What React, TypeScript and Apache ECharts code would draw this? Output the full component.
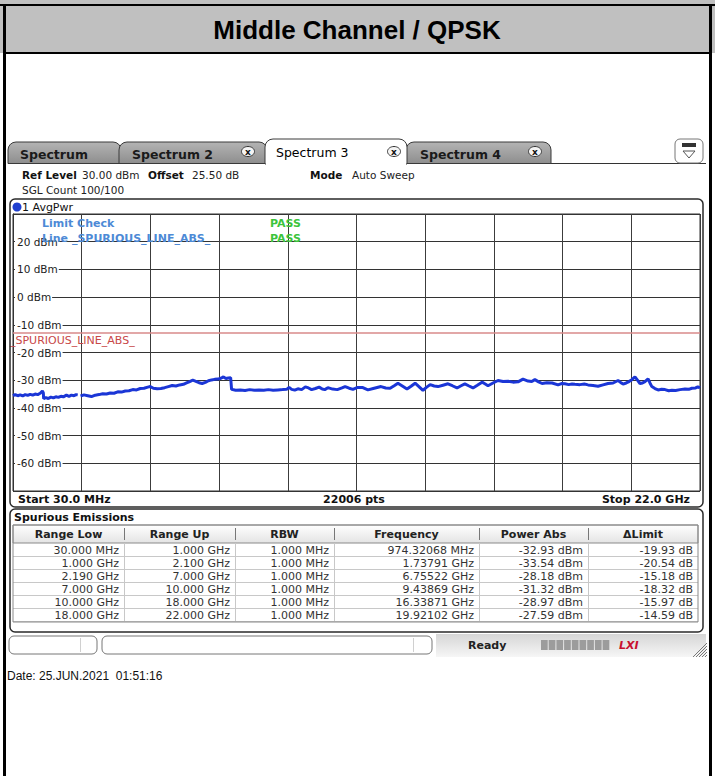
import React, { useEffect, useRef } from 'react';
import * as echarts from 'echarts';

// ---------- data ----------
const titleText = 'Middle Channel / QPSK';
const tabNames = ['Spectrum', 'Spectrum 2', 'Spectrum 3', 'Spectrum 4'];
const yMin = -70;
const yMax = 30;
const yStep = 10;
const xStartGHz = 0.03;
const xStopGHz = 22.0;
const sweepPoints = 22006;
const limitDbm = -13;

const traceFreqGHz = [
  0.03, 0.1, 0.18, 0.26, 0.34, 0.42, 0.5, 0.58, 0.66, 0.74, 0.82, 0.9, 0.97, 1.0,
  1.01, 1.08, 1.16, 1.24, 1.32, 1.4, 1.48, 1.56, 1.64, 1.74, 1.82, 1.9, 1.98, 2.05, 2.1,
  2.14,
  2.19, 2.3, 2.42, 2.54, 2.66, 2.78, 2.9, 3.02, 3.14, 3.26, 3.38, 3.5, 3.62, 3.74, 3.86, 3.98,
  4.1, 4.22, 4.34, 4.42, 4.52, 4.64, 4.76, 4.88, 5.0, 5.12, 5.24, 5.36, 5.48, 5.58, 5.68, 5.78,
  5.88, 5.98, 6.08, 6.18, 6.28, 6.38, 6.48, 6.58, 6.68, 6.76, 6.84, 6.92, 6.99,
  7.02, 7.15, 7.3, 7.45, 7.6, 7.75, 7.9, 8.05, 8.2, 8.35, 8.5, 8.65, 8.78, 8.86, 8.94, 9.04,
  9.14, 9.26, 9.38, 9.48, 9.58, 9.7, 9.82, 9.92, 10.0,
  10.1, 10.25, 10.4, 10.55, 10.65, 10.78, 10.9, 11.05, 11.2, 11.38, 11.55, 11.8, 11.95, 12.09,
  12.22, 12.34, 12.48, 12.63, 12.76, 12.89, 13.02, 13.14, 13.25, 13.37, 13.5, 13.62, 13.78,
  13.94, 14.08, 14.23, 14.36, 14.48, 14.6, 14.74, 14.88, 15.03, 15.12, 15.22, 15.38, 15.54,
  15.7, 15.86, 16.02, 16.18, 16.34, 16.5, 16.62, 16.72, 16.84, 16.95, 17.1, 17.27, 17.46,
  17.57, 17.68, 17.8, 17.91, 18.0,
  18.16, 18.3, 18.42, 18.58, 18.74, 18.9, 19.06, 19.22, 19.38, 19.46, 19.54, 19.64, 19.73,
  19.82, 19.92, 20.0, 20.08, 20.16, 20.24, 20.34, 20.4, 20.46, 20.56, 20.66, 20.77, 20.88,
  21.0, 21.1, 21.22, 21.36, 21.52, 21.64, 21.74, 21.86, 21.93, 22.0,
];
const traceLevelDbm: (number | null)[] = [
  -35.6, -35.2, -35.6, -35.3, -35.7, -35.2, -35.5, -35.1, -35.4, -35.0, -35.2, -34.7, -33.9, -34.6,
  -36.7, -36.3, -36.6, -36.1, -36.4, -36.0, -36.2, -35.8, -36.0, -35.4, -35.8, -35.4, -35.6, -35.2, -35.3,
  null,
  -35.7, -35.3, -35.6, -35.9, -35.4, -35.2, -34.9, -35.0, -34.6, -34.7, -34.2, -34.3, -33.9, -33.8, -33.4, -33.5,
  -33.0, -32.9, -32.5, -32.3, -32.9, -33.1, -33.0, -32.7, -32.3, -31.9, -32.1, -31.7, -31.5, -31.0, -30.5, -30.0,
  -30.4, -30.9, -31.2, -30.8, -30.2, -29.9, -29.7, -29.6, -29.3, -28.8, -29.4, -29.2, -29.1,
  -33.3, -33.6, -33.5, -33.7, -33.4, -33.6, -33.5, -33.6, -33.4, -33.6, -33.5, -33.4, -33.3, -32.6, -33.3, -33.6,
  -33.1, -33.4, -32.4, -32.8, -33.4, -33.0, -32.5, -33.2, -33.4,
  -32.7, -33.2, -33.4, -32.8, -32.3, -32.9, -33.3, -32.6, -32.6, -33.5, -33.0, -32.3, -32.8, -32.9,
  -32.0, -31.1, -32.1, -33.2, -32.2, -31.1, -32.4, -33.7, -32.6, -31.6, -32.1, -32.3, -31.8,
  -31.3, -32.0, -32.8, -32.0, -31.3, -32.0, -32.8, -31.8, -30.7, -31.3, -32.0, -31.0, -30.1,
  -30.5, -30.4, -30.7, -30.6, -29.6, -30.3, -30.5, -29.8, -30.6, -31.2, -30.9, -31.0, -31.7,
  -31.2, -31.3, -31.6, -31.4, -31.5,
  -31.6, -31.4, -31.7, -31.9, -32.2, -31.7, -31.2, -31.0, -30.1, -30.8, -31.4, -31.0, -30.5,
  -29.8, -28.8, -30.0, -31.2, -31.0, -30.5, -29.5, -31.0, -32.3, -33.0, -33.5, -33.3, -33.4,
  -33.8, -33.6, -33.7, -33.4, -33.2, -33.3, -32.9, -32.8, -32.4, -32.8,
];

const tableHeaders = ['Range Low', 'Range Up', 'RBW', 'Frequency', 'Power Abs', '\u0394Limit'];
const rangeLow = ['30.000 MHz', '1.000 GHz', '2.190 GHz', '7.000 GHz', '10.000 GHz', '18.000 GHz'];
const rangeUp = ['1.000 GHz', '2.100 GHz', '7.000 GHz', '10.000 GHz', '18.000 GHz', '22.000 GHz'];
const rbw = ['1.000 MHz', '1.000 MHz', '1.000 MHz', '1.000 MHz', '1.000 MHz', '1.000 MHz'];
const peakFrequency = ['974.32068 MHz', '1.73791 GHz', '6.75522 GHz', '9.43869 GHz', '16.33871 GHz', '19.92102 GHz'];
const powerAbsDbm = [-32.93, -33.54, -28.18, -31.32, -28.97, -27.59];
const deltaLimitDb = [-19.93, -20.54, -15.18, -18.32, -15.97, -14.59];

const infoRefLevel = '30.00 dBm';
const infoOffset = '25.50 dB';
const infoMode = 'Auto Sweep';
const infoCount = 'SGL Count 100/100';
const dateText = 'Date: 25.JUN.2021  01:51:16';

// ---------- helpers ----------
const FONT = '"DejaVu Sans", Verdana, sans-serif';
const ARIAL = '"Liberation Sans", Arial, sans-serif';

function txt(x: number, y: number, text: string, o: any = {}) {
  return {
    type: 'text', x, y, z: 100, silent: true,
    style: {
      text, fill: o.fill || '#111', fontSize: o.size || 11, fontFamily: o.family || FONT,
      fontWeight: o.weight || 'normal', fontStyle: o.style || 'normal',
      align: o.align || 'left', verticalAlign: 'middle',
    },
  };
}
function rect(x: number, y: number, w: number, h: number, style: any, r: any = 0, z = 5) {
  return { type: 'rect', z, silent: true, shape: { x, y, width: w, height: h, r }, style };
}
function ln(x1: number, y1: number, x2: number, y2: number, stroke: string, lineWidth = 1, z = 6) {
  return { type: 'line', z, silent: true, shape: { x1, y1, x2, y2 }, style: { stroke, lineWidth } };
}
const vgrad = (a: string, b: string) => ({
  type: 'linear', x: 0, y: 0, x2: 0, y2: 1,
  colorStops: [{ offset: 0, color: a }, { offset: 1, color: b }],
});
const NONE = 'rgba(0,0,0,0)';

function buildGraphic() {
  const g: any[] = [];
  // document frame
  g.push(rect(0, 0, 715, 53, { fill: '#c0c0c0' }, 0, 1));
  g.push(rect(0, 4, 715, 2, { fill: '#000' }, 0, 2));
  g.push(rect(3, 52, 709, 2, { fill: '#000' }, 0, 2));
  g.push(rect(3, 4, 3, 772, { fill: '#000' }, 0, 2));
  g.push(rect(709, 4, 3, 772, { fill: '#000' }, 0, 2));
  g.push(txt(357, 30, titleText, { family: ARIAL, size: 26, weight: 'bold', align: 'center', fill: '#000' }));

  // tabs
  g.push(ln(8, 163.5, 706, 163.5, '#333', 1, 4));
  const tabs = [
    { x: 8, w: 113, tx: 20, xi: 0 },
    { x: 119, w: 148, tx: 132, xi: 248 },
    { x: 265, w: 142, tx: 276, xi: 394 },
    { x: 406, w: 145, tx: 420, xi: 535 },
  ];
  tabs.forEach((t, i) => {
    const active = i === 2;
    if (active) return;
    g.push(rect(t.x, 142, t.w, 21.5, { fill: vgrad('#b4b4b4', '#8e8e8e'), stroke: '#3a3a3a', lineWidth: 1 }, [8, 8, 0, 0], 5));
    g.push(txt(t.tx, 154, tabNames[i], { weight: 'bold', size: 12.5, fill: '#1a1a1a' }));
  });
  const at = tabs[2];
  g.push(rect(at.x, 139, at.w, 25, { fill: '#fff', stroke: '#3a3a3a', lineWidth: 1 }, [8, 8, 0, 0], 7));
  g.push(rect(at.x + 1, 160, at.w - 2, 5, { fill: '#fff' }, 0, 8));
  g.push(txt(at.tx, 152, tabNames[2], { size: 12.5, fill: '#000' }));
  tabs.forEach((t) => {
    if (!t.xi) return;
    g.push({ type: 'ellipse', z: 9, silent: true, shape: { cx: t.xi, cy: 151.5, rx: 6.5, ry: 5 }, style: { fill: '#f4f4f4', stroke: '#333', lineWidth: 1 } });
    g.push(txt(t.xi, 151.5, 'x', { size: 9, weight: 'bold', align: 'center', fill: '#111' }));
  });
  // right icon
  g.push(rect(675, 139, 28, 24, { fill: '#fff', stroke: '#777', lineWidth: 1 }, 5, 5));
  g.push(rect(682, 143, 14, 4, { fill: '#333' }, 0, 6));
  g.push({ type: 'polygon', z: 6, silent: true, shape: { points: [[683, 151], [695, 151], [689, 158]] }, style: { fill: '#fff', stroke: '#555', lineWidth: 1 } });

  // info lines
  const IS = 10.5;
  g.push(txt(22, 175, 'Ref Level', { weight: 'bold', size: IS }));
  g.push(txt(82, 175, infoRefLevel, { fill: '#222', size: IS }));
  g.push(txt(148, 175, 'Offset', { weight: 'bold', size: IS }));
  g.push(txt(192, 175, infoOffset, { fill: '#222', size: IS }));
  g.push(txt(310, 175, 'Mode', { weight: 'bold', size: IS }));
  g.push(txt(352, 175, infoMode, { fill: '#222', size: IS }));
  g.push(txt(22, 190, infoCount, { fill: '#222', size: IS }));

  // plot panel
  g.push(rect(10, 199, 693, 308, { fill: NONE, stroke: '#2a2a2a', lineWidth: 1.5 }, 5, 10));
  g.push({ type: 'circle', z: 12, silent: true, shape: { cx: 17, cy: 207, r: 4.5 }, style: { fill: '#2040d0' } });
  g.push(txt(22, 207, '1 AvgPwr', { fill: '#111' }));
  g.push(txt(42, 223, 'Limit Check', { weight: 'bold', fill: '#4d8ad6' }));
  g.push(txt(42, 238, 'Line _SPURIOUS_LINE_ABS_', { weight: 'bold', fill: '#4d8ad6' }));
  g.push(txt(270, 223, 'PASS', { weight: 'bold', fill: '#3cc43c' }));
  g.push(txt(270, 238, 'PASS', { weight: 'bold', fill: '#3cc43c' }));
  g.push(txt(18, 499, 'Start ' + (xStartGHz * 1000).toFixed(1) + ' MHz', { weight: 'bold' }));
  g.push(txt(354, 499, sweepPoints + ' pts', { weight: 'bold', align: 'center' }));
  g.push(txt(690, 499, 'Stop ' + xStopGHz.toFixed(1) + ' GHz', { weight: 'bold', align: 'right' }));

  // spurious table panel
  g.push(rect(10, 509, 693, 123, { fill: NONE, stroke: '#2a2a2a', lineWidth: 1.5 }, 5, 10));
  g.push(txt(14, 517, 'Spurious Emissions', { weight: 'bold' }));
  const cols = [13, 124, 235, 334, 479, 588, 698];
  const hTop = 525, hH = 18, rowH = 13, tTop = hTop + hH;
  g.push(rect(cols[0], hTop, cols[6] - cols[0], hH, { fill: vgrad('#ffffff', '#e4e4e4'), stroke: '#8a8a8a', lineWidth: 1 }, 0, 6));
  tableHeaders.forEach((h, i) => {
    g.push(txt((cols[i] + cols[i + 1]) / 2, hTop + hH / 2, h, { weight: 'bold', align: 'center', fill: '#222' }));
    if (i > 0) g.push(ln(cols[i] + 0.5, hTop + 3, cols[i] + 0.5, hTop + hH - 3, '#777', 1, 7));
  });
  const rows = rangeLow.map((_, r) => [
    rangeLow[r], rangeUp[r], rbw[r], peakFrequency[r],
    powerAbsDbm[r].toFixed(2) + ' dBm', deltaLimitDb[r].toFixed(2) + ' dB',
  ]);
  rows.forEach((row, r) => {
    const y0 = tTop + r * rowH;
    g.push(ln(cols[0], y0 + rowH + 0.5, cols[6], y0 + rowH + 0.5, '#c8c8c8', 1, 6));
    row.forEach((cell, c) => {
      g.push(txt(cols[c + 1] - 5, y0 + rowH / 2 + 0.5, cell, { fill: '#333', align: 'right' }));
    });
  });
  const tBottom = tTop + rows.length * rowH;
  for (let i = 1; i < 6; i++) g.push(ln(cols[i] + 0.5, tTop, cols[i] + 0.5, tBottom, '#c8c8c8', 1, 6));
  g.push(rect(cols[0], hTop, cols[6] - cols[0], tBottom - hTop + 1, { fill: NONE, stroke: '#8a8a8a', lineWidth: 1 }, 0, 8));

  // status bar
  g.push(rect(436, 634, 270, 23, { fill: vgrad('#d6d6d6', '#f6f6f6') }, 0, 3));
  g.push(rect(9, 636, 88, 18, { fill: '#fff', stroke: '#777', lineWidth: 1 }, 5, 5));
  g.push(ln(80.5, 638, 80.5, 652, '#d0d0d0'));
  g.push(rect(102, 636, 330, 18, { fill: '#fff', stroke: '#777', lineWidth: 1 }, 5, 5));
  g.push(ln(413.5, 638, 413.5, 652, '#d0d0d0'));
  g.push(txt(468, 645, 'Ready', { weight: 'bold', fill: '#222' }));
  for (let i = 0; i < 9; i++) g.push(rect(541 + i * 7.7, 640, 6.7, 10, { fill: '#9c9c9c' }, 0, 6));
  g.push(txt(619, 645, 'LXI', { weight: 'bold', style: 'italic', fill: '#c8102e', size: 11 }));
  for (let i = 0; i < 5; i++) g.push(ln(693 + i * 3, 657, 707, 643 + i * 3, '#777', 1, 6));

  // date
  g.push(txt(7, 676, dateText, { family: ARIAL, size: 12, fill: '#111' }));
  return g;
}

export default function App() {
  const ref = useRef<HTMLDivElement>(null);
  useEffect(() => {
    document.body.style.margin = '0';
    const chart = echarts.init(ref.current!, null, { renderer: 'svg' });
    const traceData = traceFreqGHz.map((f, i) => [f, traceLevelDbm[i] === null ? '-' : traceLevelDbm[i]]);
    chart.setOption({
      animation: false,
      backgroundColor: '#fff',
      grid: { left: 13, top: 214, width: 687, height: 277, show: true, borderColor: '#333', borderWidth: 1, backgroundColor: NONE },
      xAxis: [
        { type: 'value', min: xStartGHz, max: xStopGHz, show: false },
        {
          type: 'value', min: 0, max: 10, interval: 1, position: 'bottom',
          axisLine: { show: false }, axisTick: { show: false }, axisLabel: { show: false },
          splitLine: { show: true, lineStyle: { color: '#3c3c3c', width: 1 } },
        },
      ],
      yAxis: {
        type: 'value', min: yMin, max: yMax, interval: yStep,
        axisLine: { show: true, lineStyle: { color: '#333' } },
        axisTick: { show: false },
        splitLine: { show: true, lineStyle: { color: '#333', width: 1 } },
        axisLabel: {
          inside: true, margin: 2, showMinLabel: false, showMaxLabel: false,
          formatter: (v: number) => v + ' dBm',
          fontSize: 10.5, fontFamily: FONT, color: '#222',
          backgroundColor: '#fff', padding: [1, 1, 1, 2],
        },
      },
      series: [
        {
          type: 'line', xAxisIndex: 0, yAxisIndex: 0, data: traceData,
          showSymbol: false, symbol: 'none', connectNulls: false,
          lineStyle: { color: '#1b36d6', width: 3 },
          z: 5,
          markLine: {
            silent: true, symbol: ['none', 'none'], animation: false,
            data: [{ yAxis: limitDbm }],
            lineStyle: { color: '#d98a8a', width: 1.5, type: 'solid' },
            label: {
              show: true, position: 'insideStartBottom', formatter: '_SPURIOUS_LINE_ABS_',
              color: '#c84848', fontSize: 11, fontFamily: FONT, distance: [-3, 2],
            },
          },
        },
      ],
      graphic: buildGraphic(),
    });
    return () => chart.dispose();
  }, []);
  return <div ref={ref} style={{ position: 'absolute', left: 0, top: 0, width: 715, height: 776 }} />;
}
